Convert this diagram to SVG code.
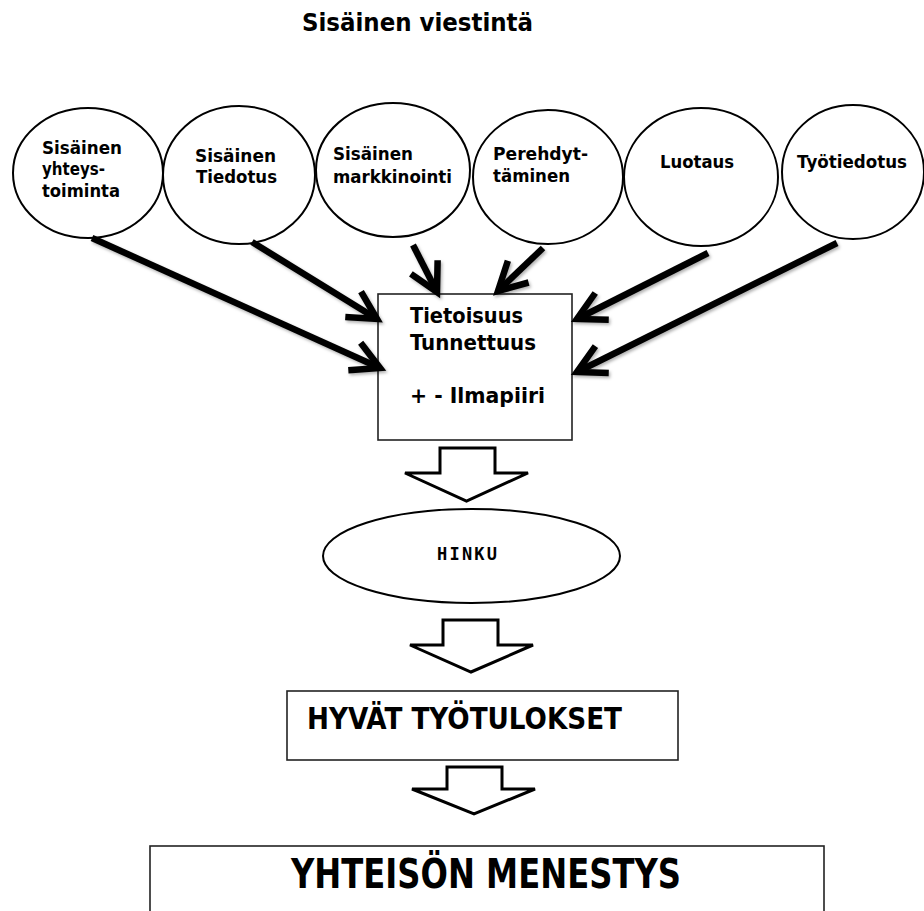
<svg xmlns="http://www.w3.org/2000/svg" width="924" height="911" viewBox="0 0 924 911">
<style>
.bg{fill:#fff}
.circ{fill:#fff;stroke:#000;stroke-width:2}
.box{fill:#fff;stroke:#222;stroke-width:1.6}
.conn{fill:none;stroke:#000;stroke-width:6.5;stroke-linecap:butt}
.block{fill:#fff;stroke:#000;stroke-width:3;stroke-linejoin:miter}
.ct{font-family:"DejaVu Sans","Liberation Sans",sans-serif;font-weight:bold;font-size:18px;fill:#000}
.title{font-family:"DejaVu Sans","Liberation Sans",sans-serif;font-weight:bold;font-size:24px;fill:#000}
.cond{font-family:"DejaVu Sans Condensed","DejaVu Sans","Liberation Sans",sans-serif;font-stretch:condensed;font-weight:bold;fill:#000}
.mono{font-family:"DejaVu Sans Mono","Liberation Mono",monospace;font-weight:bold;font-size:17px;fill:#000}
</style>
<defs>
<marker id="vhead" markerUnits="userSpaceOnUse" markerWidth="60" markerHeight="60" viewBox="-40 -30 60 60" refX="0" refY="0" orient="auto" overflow="visible">
<path d="M-28,-15 L0,0 L-28,15" fill="none" stroke="#000" stroke-width="6.5" stroke-linejoin="miter"/>
</marker>
<filter id="shadow" x="-20%" y="-20%" width="140%" height="140%">
<feDropShadow dx="1.5" dy="2" stdDeviation="1.5" flood-color="#000" flood-opacity="0.3"/>
</filter>
</defs>
<rect class="bg" x="0" y="0" width="924" height="911"/>

<text class="title" x="302" y="31" textLength="231" lengthAdjust="spacingAndGlyphs">Sisäinen viestintä</text>

<g id="n1"><ellipse class="circ" cx="88" cy="173" rx="75" ry="65"/>
<text class="ct" x="42" y="154" textLength="80" lengthAdjust="spacingAndGlyphs">Sisäinen</text>
<text class="ct" x="42" y="175" textLength="63" lengthAdjust="spacingAndGlyphs">yhteys-</text>
<text class="ct" x="42" y="197" textLength="78" lengthAdjust="spacingAndGlyphs">toiminta</text></g>

<g id="n2"><ellipse class="circ" cx="239" cy="175" rx="76" ry="69"/>
<text class="ct" x="195" y="162" textLength="81" lengthAdjust="spacingAndGlyphs">Sisäinen</text>
<text class="ct" x="196" y="183" textLength="81" lengthAdjust="spacingAndGlyphs">Tiedotus</text></g>

<g id="n3"><ellipse class="circ" cx="393" cy="170" rx="77" ry="67"/>
<text class="ct" x="333" y="160" textLength="80" lengthAdjust="spacingAndGlyphs">Sisäinen</text>
<text class="ct" x="333" y="183" textLength="119" lengthAdjust="spacingAndGlyphs">markkinointi</text></g>

<g id="n4"><ellipse class="circ" cx="548" cy="177" rx="75" ry="67"/>
<text class="ct" x="493" y="160" textLength="95" lengthAdjust="spacingAndGlyphs">Perehdyt-</text>
<text class="ct" x="493" y="182" textLength="77" lengthAdjust="spacingAndGlyphs">täminen</text></g>

<g id="n5"><ellipse class="circ" cx="701" cy="177" rx="77" ry="69"/>
<text class="ct" x="660" y="168" textLength="74" lengthAdjust="spacingAndGlyphs">Luotaus</text></g>

<g id="n6"><ellipse class="circ" cx="853" cy="172" rx="71" ry="67"/>
<text class="ct" x="797" y="168" textLength="110" lengthAdjust="spacingAndGlyphs">Työtiedotus</text></g>

<g id="center"><rect class="box" x="378" y="294" width="194" height="146"/>
<text class="cond" font-size="22" x="410" y="323" textLength="113" lengthAdjust="spacingAndGlyphs">Tietoisuus</text>
<text class="cond" font-size="22" x="410" y="350" textLength="126" lengthAdjust="spacingAndGlyphs">Tunnettuus</text>
<text class="cond" font-size="22" x="410" y="403" textLength="135" lengthAdjust="spacingAndGlyphs">+ - Ilmapiiri</text></g>

<g id="hinku"><ellipse class="circ" cx="471.5" cy="556" rx="148.5" ry="47"/>
<text class="mono" x="437" y="560" textLength="60" lengthAdjust="spacing">HINKU</text></g>

<g id="tulokset"><rect class="box" x="287" y="691" width="391" height="69"/>
<text class="cond" font-size="30" x="307" y="729" textLength="315" lengthAdjust="spacingAndGlyphs">HYVÄT TYÖTULOKSET</text></g>

<g id="menestys"><rect class="box" x="150" y="846" width="674" height="80"/>
<text class="cond" font-size="40" x="291" y="888" textLength="390" lengthAdjust="spacingAndGlyphs">YHTEISÖN MENESTYS</text></g>

<g id="connectors">
<g filter="url(#shadow)">
<path class="conn" marker-end="url(#vhead)" d="M92,238 L380,368"/>
<path class="conn" marker-end="url(#vhead)" d="M252,242 L377,319"/>
<path class="conn" marker-end="url(#vhead)" d="M413,245 L437,292"/>
<path class="conn" marker-end="url(#vhead)" d="M543,248 L498,291"/>
<path class="conn" marker-end="url(#vhead)" d="M708,253 L577,319"/>
<path class="conn" marker-end="url(#vhead)" d="M837,243 L577,372"/>
</g>
<polygon class="block" points="440,448 495,448 495,473 528,473 466.5,501 405,473 440,473"/>
<polygon class="block" points="443,620 498,620 498,645 533,645 471,672 410,645 443,645"/>
<polygon class="block" points="447,767 502,767 502,789 535,789 474,814 412,789 447,789"/>
</g>
</svg>
